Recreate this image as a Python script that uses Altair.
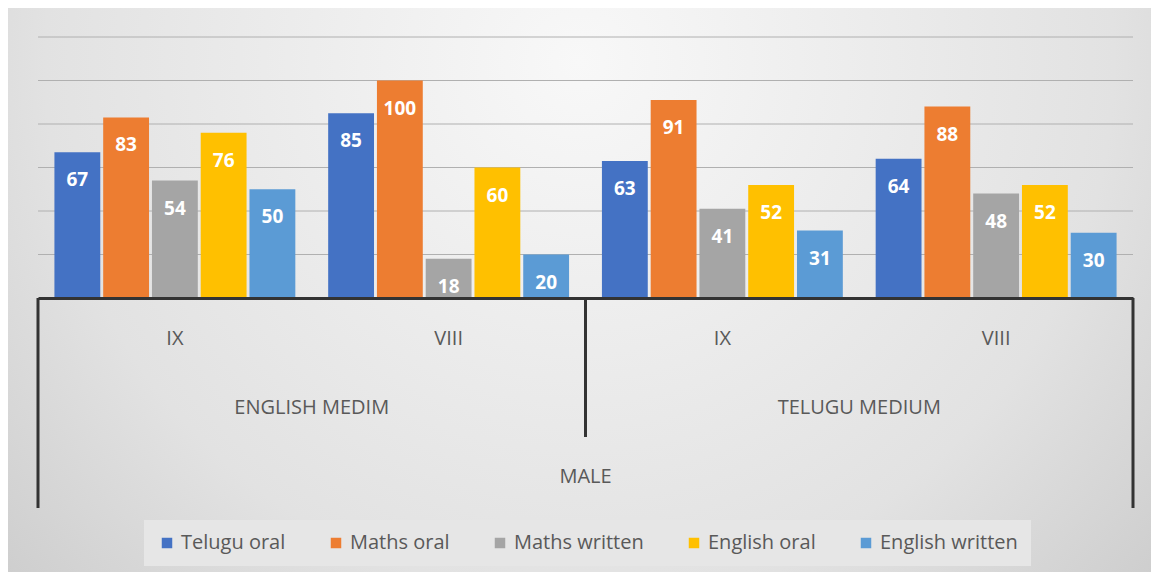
import altair as alt
import pandas as pd

# ---- data ----
groups = ["EM-IX", "EM-VIII", "TM-IX", "TM-VIII"]
grade_labels = ["IX", "VIII", "IX", "VIII"]
mediums = ["ENGLISH MEDIM", "TELUGU MEDIUM"]
top_level = ["MALE"]
subjects = ["Telugu oral", "Maths oral", "Maths written", "English oral", "English written"]
telugu_oral = [67, 85, 63, 64]
maths_oral = [83, 100, 91, 88]
maths_written = [54, 18, 41, 48]
english_oral = [76, 60, 52, 52]
english_written = [50, 20, 31, 30]
gridlines = [20, 40, 60, 80, 100, 120]
colors = ["#4472C4", "#ED7D31", "#A5A5A5", "#FFC000", "#5B9BD5"]

series = [telugu_oral, maths_oral, maths_written, english_oral, english_written]
rows = []
for s, vals in zip(subjects, series):
    for g, v in zip(groups, vals):
        rows.append({"group": g, "subject": s, "value": v})
df = pd.DataFrame(rows)

W, H = 1095, 261
FONT = "Open Sans"
TXT = "#595959"
FS = 20

label_expr = " : ".join(
    f"datum.value === '{g}' ? '{l}'" for g, l in zip(groups, grade_labels)
) + " : ''"

xenc = alt.X("group:N", sort=groups,
             scale=alt.Scale(paddingInner=0.12, paddingOuter=0.06),
             axis=alt.Axis(title=None, labelExpr=label_expr, ticks=False,
                           domainColor="#333333", domainWidth=3,
                           labelFont=FONT, labelFontSize=FS, labelColor=TXT,
                           labelBaseline="middle", labelPadding=40,
                           labelAngle=0, zindex=1))
xoff = alt.XOffset("subject:N", sort=subjects, scale=alt.Scale(paddingInner=0.06))
yenc = alt.Y("value:Q", scale=alt.Scale(domain=[0, 120]), axis=None)

bg = alt.Chart(pd.DataFrame({"a": [0]})).mark_rect(
    color=alt.RadialGradient(
        gradient="radial",
        stops=[alt.GradientStop(offset=0, color="#f8f8f8"),
               alt.GradientStop(offset=0.55, color="#e2e2e2"),
               alt.GradientStop(offset=1, color="#bdbdbd")],
        x1=0.5, y1=0.3, r1=0, x2=0.5, y2=0.3, r2=0.85)
).encode(x=alt.value(-30), x2=alt.value(W + 18), y=alt.value(-29), y2=alt.value(535))

grid = alt.Chart(pd.DataFrame({"v": gridlines})).mark_rule(
    color="#b0b0b0", strokeWidth=1
).encode(y=alt.Y("v:Q", scale=alt.Scale(domain=[0, 120]), axis=None),
         x=alt.value(0), x2=alt.value(W))

bars = alt.Chart(df).mark_bar().encode(
    x=xenc, xOffset=xoff, y=yenc,
    color=alt.Color("subject:N", sort=subjects,
                    scale=alt.Scale(domain=subjects, range=colors),
                    legend=alt.Legend(title=None, orient="none", direction="horizontal",
                                      legendX=106, legendY=483,
                                      fillColor="#e6e6e6", padding=13,
                                      symbolType="square", symbolSize=110,
                                      symbolStrokeWidth=0, columnPadding=40,
                                      labelFont=FONT, labelFontSize=FS,
                                      labelColor=TXT, labelOffset=4)),
)
labels = alt.Chart(df).mark_text(
    color="white", font=FONT, fontWeight="bold", fontSize=19,
    baseline="middle", dy=28
).encode(x=xenc, xOffset=xoff, y=yenc, text="value:Q")

main = alt.layer(grid, bars, labels)

med = alt.Chart(pd.DataFrame({"m": mediums})).mark_text(
    font=FONT, fontSize=FS, color=TXT, baseline="middle"
).encode(x=alt.X("m:N", sort=mediums, scale=alt.Scale(padding=0.5), axis=None),
         y=alt.value(371), text="m:N")

top = alt.Chart(pd.DataFrame({"t": top_level})).mark_text(
    font=FONT, fontSize=FS, color=TXT, baseline="middle"
).encode(x=alt.X("t:N", scale=alt.Scale(padding=0.5), axis=None),
         y=alt.value(440), text="t:N")

outer = alt.Chart(pd.DataFrame({"pos": [0, 2]})).mark_rule(
    color="#333333", strokeWidth=3
).encode(x=alt.X("pos:Q", scale=alt.Scale(domain=[0, 2]), axis=None),
         y=alt.value(H), y2=alt.value(471))
inner = alt.Chart(pd.DataFrame({"pos": [1]})).mark_rule(
    color="#333333", strokeWidth=3
).encode(x=alt.X("pos:Q", scale=alt.Scale(domain=[0, 2]), axis=None),
         y=alt.value(H), y2=alt.value(400))

chart = alt.layer(bg, main, med, top, outer, inner).resolve_scale(
    x="independent"
).properties(
    width=W, height=H,
    autosize=alt.AutoSizeParams(type="none"),
    padding={"left": 30, "top": 29, "right": 18, "bottom": 274},
    background="white",
).configure_view(stroke=None)

chart.save("out.html", embed_options={"renderer": "svg", "actions": False})
